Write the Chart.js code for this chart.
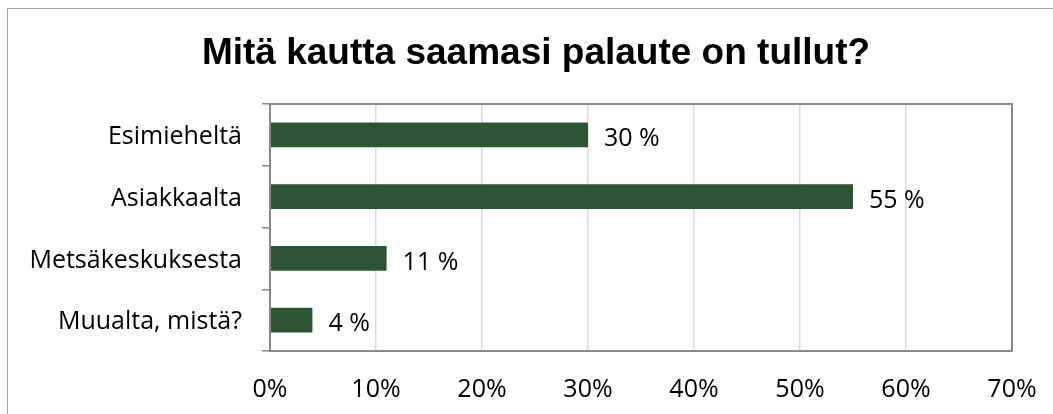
<!DOCTYPE html>
<html>
<head>
<meta charset="utf-8">
<script src="https://cdn.jsdelivr.net/npm/chart.js@4/dist/chart.umd.min.js"></script>
<style>
html,body{margin:0;padding:0;background:#fff;}
#c{display:block;}
</style>
</head>
<body>
<canvas id="c" width="1053" height="414"></canvas>
<script>
const titleText = 'Mitä kautta saamasi palaute on tullut?';
const categories = ['Esimieheltä', 'Asiakkaalta', 'Metsäkeskuksesta', 'Muualta, mistä?'];
const values = [30, 55, 11, 4];
const dataLabels = ['30 %', '55 %', '11 %', '4 %'];
const xTicks = [0, 10, 20, 30, 40, 50, 60, 70];

const FONT = "'Open Sans', sans-serif";

const decor = {
  id: 'decor',
  beforeDraw(chart) {
    const ctx = chart.ctx;
    ctx.save();
    ctx.fillStyle = '#fff';
    ctx.fillRect(0, 0, chart.width, chart.height);
    ctx.strokeStyle = '#a6a6a6';
    ctx.lineWidth = 1;
    ctx.strokeRect(7.5, 8.5, 1200, 600);
    ctx.fillStyle = '#000';
    ctx.font = "bold 37px 'Liberation Sans', Arial, sans-serif";
    ctx.textAlign = 'center';
    ctx.textBaseline = 'alphabetic';
    ctx.fillText(titleText, 536, 64);
    ctx.restore();
  },
  afterDatasetsDraw(chart) {
    const ctx = chart.ctx;
    const meta = chart.getDatasetMeta(0);
    ctx.save();
    ctx.fillStyle = '#000';
    ctx.font = '25px ' + FONT;
    ctx.textAlign = 'left';
    ctx.textBaseline = 'middle';
    meta.data.forEach((bar, i) => {
      ctx.fillText(dataLabels[i], bar.x + 16, bar.y + 4);
    });
    ctx.restore();
  },
  afterDraw(chart) {
    const a = chart.chartArea;
    const ctx = chart.ctx;
    ctx.save();
    ctx.strokeStyle = '#898989';
    ctx.lineWidth = 2;
    ctx.strokeRect(a.left, a.top, a.right - a.left, a.bottom - a.top);
    ctx.restore();
  }
};

new Chart(document.getElementById('c'), {
  type: 'bar',
  data: {
    labels: categories,
    datasets: [{
      data: values,
      backgroundColor: '#2e5335',
      borderWidth: 0,
      barPercentage: 0.4,
      categoryPercentage: 1
    }]
  },
  options: {
    indexAxis: 'y',
    responsive: false,
    animation: false,
    devicePixelRatio: 1,
    layout: { padding: { top: 104, right: 41, bottom: 0, left: 0 } },
    plugins: { legend: { display: false }, title: { display: false }, tooltip: { enabled: false } },
    scales: {
      x: {
        type: 'linear',
        min: 0, max: 70,
        afterBuildTicks(scale) { scale.ticks = xTicks.map(v => ({ value: v })); },
        afterFit(scale) { scale.height = 63; scale.paddingLeft = 0; scale.paddingRight = 0; },
        ticks: {
          color: '#000',
          font: { family: FONT, size: 25 },
          padding: 24,
          callback: (v) => v + '%'
        },
        grid: { color: '#d9d9d9', lineWidth: 1.5, drawTicks: false },
        border: { display: true, color: '#898989', width: 2 }
      },
      y: {
        type: 'category',
        afterFit(scale) { scale.width = 270; scale.paddingTop = 0; scale.paddingBottom = 0; },
        ticks: {
          color: '#000',
          font: { family: FONT, size: 25 },
          padding: 20,
          labelOffset: 2
        },
        grid: { offset: true, drawOnChartArea: false, drawTicks: true, tickLength: 8, color: '#898989', lineWidth: 1.5 },
        border: { display: true, color: '#898989', width: 2 }
      }
    }
  },
  plugins: [decor]
});
</script>
</body>
</html>
